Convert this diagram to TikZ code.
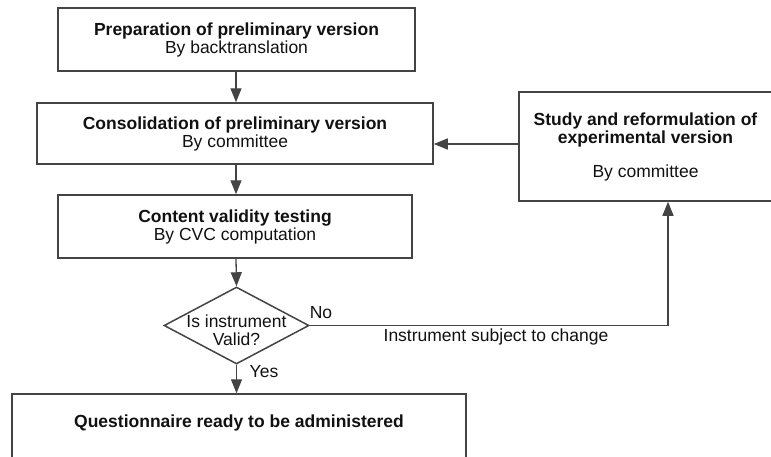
\documentclass[tikz,border=0pt]{standalone}
\usepackage{fontspec}
\setmainfont{Liberation Sans}
\usetikzlibrary{arrows.meta,shapes.geometric}
\definecolor{linec}{HTML}{444444}
\definecolor{textc}{HTML}{111111}
\begin{document}
\begin{tikzpicture}[x=1pt,y=-1pt,
  every node/.style={text=textc, font=\fontsize{17.5}{18}\selectfont},
  box/.style={draw=linec, line width=1.5pt, align=center, inner sep=0pt},
  arr/.style={draw=linec, line width=1.3pt, -{Triangle[length=14pt,width=11pt]}},
  lbl/.style={inner sep=0pt}]
\useasboundingbox (0,0) rectangle (771,456);
\node[box, minimum width=357, minimum height=63] (b1) at (236.5,39.5)
  {\textbf{Preparation of preliminary version}\\By backtranslation};
\node[box, minimum width=396, minimum height=61] (b2) at (235,133.5)
  {\textbf{Consolidation of preliminary version}\\By committee};
\node[box, minimum width=354, minimum height=63] (b3) at (235,226.5)
  {\textbf{Content validity testing}\\By CVC computation};
\node[diamond, draw=linec, line width=1.5pt, minimum width=145, minimum height=77, inner sep=0pt] (dia) at (236.5,325.5) {};
\node[lbl, align=center] (diatext) at (236.5,330) {Is instrument\\Valid?};
\node[box, minimum width=454, minimum height=76] (b4) at (239,432) {};
\node[lbl] (b4text) at (239,423) {\textbf{Questionnaire ready to be administered}};
\node[box, minimum width=253, minimum height=109] (st) at (645.5,146.5)
  {\textbf{Study and reformulation of}\\\textbf{experimental version}\\[16pt]By committee};
\draw[arr] (b1.south -| 236,0) -- (b2.north -| 236,0);
\draw[arr] (b2.south -| 236,0) -- (b3.north -| 236,0);
\draw[arr] (b3.south -| 236,0) -- (dia.north);
\draw[arr] (dia.south) -- (b4.north -| dia.south);
\draw[arr] (st.west |- 0,144) -- (b2.east |- 0,144);
\coordinate (corner) at (668,325.5);
\draw[arr] (dia.east) -- (corner) -- (st.south -| corner);
\node[lbl] (no) at (321,313) {No};
\node[lbl] (yes) at (264,372) {Yes};
\node[lbl] (chg) at (496,337) {Instrument subject to change};
\end{tikzpicture}
\end{document}
